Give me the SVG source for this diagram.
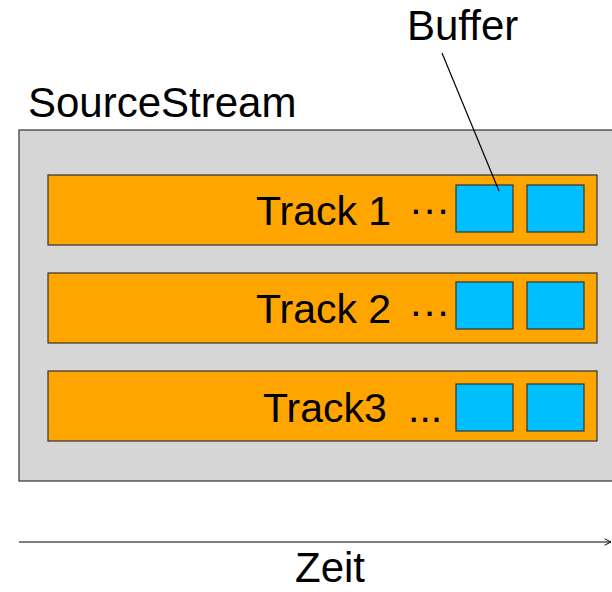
<svg xmlns="http://www.w3.org/2000/svg" width="612" height="592" viewBox="0 0 612 592">
<defs>
<style>
.lbl{font-family:"Liberation Sans",Arial,Helvetica,sans-serif;font-size:42px;fill:#000}
.tl{font-family:"Liberation Sans",Arial,Helvetica,sans-serif;font-size:41px;fill:#000}
.track{fill:#ffa500;stroke:#333;stroke-width:1.2}
.buf{fill:#00bfff;stroke:#333;stroke-width:1.2}
.conn{stroke:#000;stroke-width:1.2;fill:none}
</style>
<marker id="open" viewBox="0 0 10 10" refX="9" refY="5" markerWidth="8" markerHeight="8" markerUnits="userSpaceOnUse" orient="auto">
<path d="M1,1 L9,5 L1,9" fill="none" stroke="#000" stroke-width="1.2"/>
</marker>
</defs>
<rect width="612" height="592" fill="#fff"/>
<g id="sourcestream">
<rect x="19" y="130" width="600" height="351" fill="#d6d6d6" stroke="#333" stroke-width="1.2"/>
<text class="lbl" x="28" y="117">SourceStream</text>
</g>
<g id="track1">
<rect class="track" x="48" y="175" width="549" height="70"/>
<text class="tl" y="225"><tspan x="256">Track 1</tspan><tspan x="409" dy="-2">···</tspan></text>
<rect class="buf" x="456" y="185" width="57" height="47"/>
<rect class="buf" x="527" y="185" width="57" height="47"/>
</g>
<g id="track2">
<rect class="track" x="48" y="273" width="549" height="70"/>
<text class="tl" y="323"><tspan x="256">Track 2</tspan><tspan x="409" dy="2">···</tspan></text>
<rect class="buf" x="456" y="282" width="57" height="47"/>
<rect class="buf" x="527" y="282" width="57" height="47"/>
</g>
<g id="track3">
<rect class="track" x="48" y="371" width="549" height="70"/>
<text class="tl" y="422"><tspan x="263">Track3</tspan><tspan x="408">...</tspan></text>
<rect class="buf" x="456" y="384" width="57" height="47"/>
<rect class="buf" x="527" y="384" width="57" height="47"/>
</g>
<g id="buffer">
<text class="lbl" x="407" y="40">Buffer</text>
</g>
<g id="zeit">
<text class="lbl" x="295" y="582">Zeit</text>
</g>
<g id="connectors">
<line class="conn" x1="442" y1="53" x2="499" y2="191"/>
<line class="conn" x1="19" y1="542" x2="611" y2="542" marker-end="url(#open)"/>
</g>
</svg>
